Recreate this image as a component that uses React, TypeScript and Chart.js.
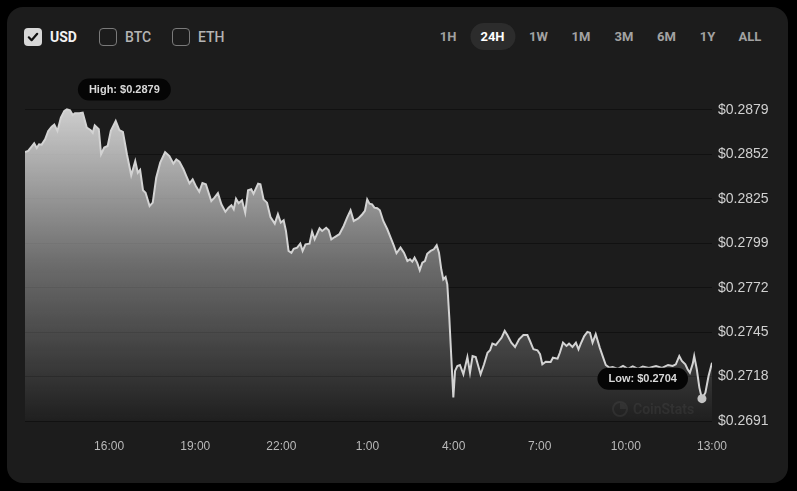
import React, { useEffect, useRef } from 'react';
import { Chart, registerables } from 'chart.js';

Chart.register(...registerables);

// hours since midnight of the first day (24 = midnight of day two)
const times = [
  13.07, 13.18, 13.30, 13.39, 13.48, 13.56, 13.65, 13.77, 13.88, 14.00,
  14.09, 14.20, 14.32, 14.44, 14.53, 14.64, 14.73, 14.81, 14.96, 15.08,
  15.22, 15.36, 15.43, 15.50, 15.64, 15.72, 15.83, 15.95, 16.06, 16.23,
  16.36, 16.48, 16.62, 16.77, 16.91, 17.00, 17.08, 17.18, 17.27, 17.41,
  17.52, 17.64, 17.78, 17.95, 18.10, 18.24, 18.34, 18.45, 18.59, 18.69,
  18.80, 18.91, 19.03, 19.14, 19.25, 19.37, 19.56, 19.67, 19.79, 19.91,
  20.05, 20.16, 20.26, 20.34, 20.42, 20.51, 20.63, 20.74, 20.84, 20.95,
  21.03, 21.19, 21.27, 21.38, 21.50, 21.62, 21.77, 21.88, 21.98, 22.08,
  22.16, 22.25, 22.35, 22.43, 22.55, 22.66, 22.74, 22.84, 22.98, 23.07,
  23.16, 23.33, 23.42, 23.56, 23.65, 23.74, 23.86, 24.02, 24.17, 24.29,
  24.41, 24.52, 24.68, 24.82, 24.91, 24.99, 25.07, 25.16, 25.24, 25.34,
  25.43, 25.55, 25.69, 25.83, 25.92, 26.01, 26.15, 26.27, 26.39, 26.48,
  26.56, 26.64, 26.73, 26.82, 26.91, 27.00, 27.08, 27.20, 27.31, 27.41,
  27.49, 27.57, 27.64, 27.72, 27.78, 27.85, 27.92, 27.99, 28.05, 28.13,
  28.22, 28.34, 28.48, 28.57, 28.66, 28.77, 28.94, 29.06, 29.18, 29.27,
  29.35, 29.47, 29.58, 29.67, 29.78, 29.87, 30.01, 30.14, 30.28, 30.43,
  30.57, 30.66, 30.78, 30.92, 31.01, 31.09, 31.21, 31.38, 31.46, 31.62,
  31.70, 31.81, 31.93, 32.02, 32.14, 32.26, 32.35, 32.43, 32.55, 32.66,
  32.75, 32.84, 32.95, 33.09, 33.21, 33.30, 33.42, 33.54, 33.72, 33.90,
  34.07, 34.24, 34.42, 34.59, 34.80, 35.05, 35.26, 35.47, 35.63, 35.74,
  35.86, 35.95, 36.07, 36.15, 36.23, 36.33, 36.38, 36.47, 36.56, 36.65,
  36.77, 36.88, 37.00,
];

const prices = [
  0.28532, 0.28539, 0.28565, 0.28585, 0.28557, 0.28579, 0.28577, 0.28609, 0.28660, 0.28686,
  0.28698, 0.28660, 0.28740, 0.28781, 0.28790, 0.28785, 0.28756, 0.28767, 0.28767, 0.28770,
  0.28680, 0.28664, 0.28649, 0.28694, 0.28670, 0.28519, 0.28559, 0.28569, 0.28660, 0.28720,
  0.28664, 0.28654, 0.28519, 0.28392, 0.28478, 0.28407, 0.28424, 0.28301, 0.28286, 0.28206,
  0.28226, 0.28377, 0.28468, 0.28532, 0.28508, 0.28462, 0.28488, 0.28474, 0.28428, 0.28387,
  0.28343, 0.28367, 0.28323, 0.28292, 0.28345, 0.28337, 0.28236, 0.28256, 0.28283, 0.28216,
  0.28171, 0.28196, 0.28210, 0.28186, 0.28250, 0.28222, 0.28240, 0.28165, 0.28301, 0.28307,
  0.28280, 0.28341, 0.28337, 0.28246, 0.28226, 0.28139, 0.28099, 0.28156, 0.28105, 0.28119,
  0.28055, 0.27934, 0.27923, 0.27947, 0.27954, 0.27978, 0.27934, 0.27974, 0.27978, 0.28050,
  0.28004, 0.28071, 0.28055, 0.28074, 0.28059, 0.28004, 0.28018, 0.28035, 0.28085, 0.28135,
  0.28180, 0.28115, 0.28131, 0.28156, 0.28176, 0.28246, 0.28220, 0.28216, 0.28196, 0.28192,
  0.28180, 0.28115, 0.28065, 0.28004, 0.27964, 0.27920, 0.27954, 0.27923, 0.27873, 0.27883,
  0.27869, 0.27893, 0.27863, 0.27817, 0.27863, 0.27873, 0.27917, 0.27934, 0.27944, 0.27968,
  0.27923, 0.27823, 0.27762, 0.27776, 0.27732, 0.27530, 0.27288, 0.27048, 0.27208, 0.27238,
  0.27244, 0.27188, 0.27292, 0.27197, 0.27298, 0.27292, 0.27188, 0.27248, 0.27318, 0.27333,
  0.27373, 0.27365, 0.27389, 0.27409, 0.27450, 0.27425, 0.27379, 0.27353, 0.27399, 0.27425,
  0.27425, 0.27389, 0.27339, 0.27333, 0.27309, 0.27248, 0.27264, 0.27262, 0.27288, 0.27282,
  0.27318, 0.27379, 0.27359, 0.27373, 0.27353, 0.27379, 0.27339, 0.27373, 0.27419, 0.27444,
  0.27439, 0.27379, 0.27430, 0.27349, 0.27288, 0.27244, 0.27228, 0.27232, 0.27220, 0.27238,
  0.27220, 0.27235, 0.27220, 0.27235, 0.27226, 0.27238, 0.27226, 0.27244, 0.27238, 0.27248,
  0.27298, 0.27268, 0.27248, 0.27218, 0.27197, 0.27252, 0.27298, 0.27218, 0.27107, 0.27040,
  0.27076, 0.27177, 0.27258,
];

const xTickHours = [16, 19, 22, 25, 28, 31, 34, 37];
const xTickLabels = ['16:00', '19:00', '22:00', '1:00', '4:00', '7:00', '10:00', '13:00'];
const xMin = 13.07;
const xMax = 37.0;

const yTickLabels = ['$0.2691', '$0.2718', '$0.2745', '$0.2772', '$0.2799', '$0.2825', '$0.2852', '$0.2879'];
const yMin = 0.26905;
const yStep = 0.002688;
const yMax = 0.290225;

const currencies = ['USD', 'BTC', 'ETH'];
const checkedCurrency = 'USD';
const ranges = ['1H', '24H', '1W', '1M', '3M', '6M', '1Y', 'ALL'];
const activeRange = '24H';

const AXIS_FONT = '"Liberation Sans", Arial, sans-serif';
const UI_FONT = 'Roboto, "Liberation Sans", Arial, sans-serif';

const markersPlugin = {
  id: 'markers',
  afterDatasetsDraw(chart: any) {
    const ctx = chart.ctx as CanvasRenderingContext2D;
    const xs = chart.scales.x;
    const ys = chart.scales.y;
    let hi = 0;
    let lo = 0;
    prices.forEach((p, i) => {
      if (p > prices[hi]) hi = i;
      if (p < prices[lo]) lo = i;
    });
    const measure = (text: string) => {
      ctx.save();
      ctx.font = `bold 11px ${AXIS_FONT}`;
      const w = ctx.measureText(text).width + 22;
      ctx.restore();
      return w;
    };
    const pill = (text: string, left: number, cy: number) => {
      const w = measure(text);
      const h = 22;
      ctx.save();
      ctx.font = `bold 11px ${AXIS_FONT}`;
      ctx.fillStyle = '#050505';
      ctx.beginPath();
      (ctx as any).roundRect(left, cy - h / 2, w, h, h / 2);
      ctx.fill();
      ctx.fillStyle = '#d9d9d9';
      ctx.textAlign = 'left';
      ctx.textBaseline = 'middle';
      ctx.fillText(text, left + 11, cy + 0.5);
      ctx.restore();
    };
    const hx = xs.getPixelForValue(times[hi]);
    const hy = ys.getPixelForValue(prices[hi]);
    pill(`High: $${prices[hi].toFixed(4)}`, hx + 11, hy - 20);
    const lx = xs.getPixelForValue(times[lo]);
    const ly = ys.getPixelForValue(prices[lo]);
    const lowText = `Low: $${prices[lo].toFixed(4)}`;
    pill(lowText, lx - 14 - measure(lowText), ly - 20);
    ctx.save();
    ctx.fillStyle = '#c4c4c4';
    ctx.beginPath();
    ctx.arc(lx, ly, 4.5, 0, Math.PI * 2);
    ctx.fill();
    ctx.restore();
  },
};

function PriceChart() {
  const ref = useRef<HTMLCanvasElement | null>(null);
  useEffect(() => {
    if (!ref.current) return;
    const chart = new Chart(ref.current, {
      type: 'line',
      data: {
        datasets: [
          {
            data: times.map((t, i) => ({ x: t, y: prices[i] })),
            borderColor: '#d3d3d3',
            borderWidth: 2,
            pointRadius: 0,
            tension: 0,
            fill: 'start',
            backgroundColor: (c: any) => {
              const ch = c.chart;
              const area = ch.chartArea;
              if (!area) return 'rgba(0,0,0,0)';
              const top = ch.scales.y.getPixelForValue(Math.max(...prices));
              const g = ch.ctx.createLinearGradient(0, top, 0, area.bottom);
              g.addColorStop(0, 'rgba(205,205,205,1)');
              g.addColorStop(0.5, 'rgba(205,205,205,0.45)');
              g.addColorStop(1, 'rgba(205,205,205,0.02)');
              return g;
            },
          },
        ],
      },
      options: {
        responsive: false,
        devicePixelRatio: 1,
        animation: false,
        layout: { padding: { left: 17, top: 10, right: 0, bottom: 0 } },
        plugins: { legend: { display: false }, tooltip: { enabled: false } },
        scales: {
          x: {
            type: 'linear',
            min: xMin,
            max: xMax,
            grid: { display: false, drawTicks: false },
            border: { display: false },
            afterBuildTicks: (s: any) => {
              s.ticks = xTickHours.map((v) => ({ value: v }));
            },
            afterFit: (s: any) => {
              s.height = 63;
              s.paddingLeft = 0;
              s.paddingRight = 0;
            },
            ticks: {
              autoSkip: false,
              maxRotation: 0,
              padding: 18,
              color: '#b9b9b9',
              font: { family: AXIS_FONT, size: 12 },
              callback: (_v: any, i: number) => xTickLabels[i],
            },
          },
          y: {
            position: 'right',
            min: yMin,
            max: yMax,
            grid: { color: 'rgba(0,0,0,0.38)', lineWidth: 1, drawTicks: false },
            border: { display: false },
            afterBuildTicks: (s: any) => {
              s.ticks = yTickLabels.map((_l, i) => ({ value: yMin + i * yStep }));
            },
            afterFit: (s: any) => {
              s.width = 76;
              s.paddingTop = 0;
              s.paddingBottom = 0;
            },
            ticks: {
              padding: 6,
              color: '#d0d0d0',
              font: { family: AXIS_FONT, size: 14 },
              callback: (_v: any, i: number) => yTickLabels[i],
            },
          },
        },
      },
      plugins: [markersPlugin],
    } as any);
    return () => chart.destroy();
  }, []);
  return (
    <canvas
      ref={ref}
      width={780}
      height={423}
      style={{ position: 'absolute', left: 8, top: 61, width: 780, height: 423 }}
    />
  );
}

export default function App() {
  const boxLefts = [24, 99, 172];
  const rangeCenters = [448, 492.5, 538.5, 581, 624, 666.5, 707.5, 750];
  return (
    <div style={{ position: 'fixed', inset: 0, background: '#000', overflow: 'hidden' }}>
      <div
        style={{
          position: 'absolute',
          left: 7,
          top: 7,
          width: 781,
          height: 476,
          borderRadius: 16,
          background: '#1c1c1c',
        }}
      />
      {currencies.map((c, i) => {
        const checked = c === checkedCurrency;
        return (
          <div key={c}>
            <div
              style={{
                position: 'absolute',
                left: boxLefts[i],
                top: 28,
                width: 18,
                height: 18,
                boxSizing: 'border-box',
                borderRadius: 4,
                background: checked ? '#d8d8d8' : 'transparent',
                border: checked ? 'none' : '1.5px solid #7a7a7a',
              }}
            >
              {checked && (
                <svg width={18} height={18} viewBox="0 0 18 18" style={{ display: 'block' }}>
                  <path d="M4.8 9.3 L7.6 12.2 L13.2 5.8" fill="none" stroke="#111" strokeWidth={2.2} strokeLinecap="round" strokeLinejoin="round" />
                </svg>
              )}
            </div>
            <div
              style={{
                position: 'absolute',
                left: boxLefts[i] + 26,
                top: 28,
                height: 18,
                lineHeight: '18px',
                fontFamily: UI_FONT,
                fontSize: 14,
                fontWeight: checked ? 700 : 500,
                color: checked ? '#f2f2f2' : '#b4b4b4',
              }}
            >
              {c}
            </div>
          </div>
        );
      })}
      {ranges.map((r, i) => {
        const active = r === activeRange;
        return (
          <div
            key={r}
            style={{
              position: 'absolute',
              left: rangeCenters[i],
              top: 23,
              transform: 'translateX(-50%)',
              padding: '0 10.5px',
              height: 27,
              lineHeight: '27px',
              borderRadius: 13.5,
              whiteSpace: 'nowrap',
              background: active ? '#2c2c2c' : 'transparent',
              color: active ? '#ffffff' : '#a2a2a2',
              fontFamily: UI_FONT,
              fontSize: 13,
              fontWeight: 700,
            }}
          >
            {r}
          </div>
        );
      })}
      <PriceChart />
      <div
        style={{
          position: 'absolute',
          left: 612,
          top: 400,
          height: 18,
          display: 'flex',
          alignItems: 'center',
          gap: 5,
          color: 'rgba(255,255,255,0.06)',
          fontFamily: UI_FONT,
          fontSize: 14,
          fontWeight: 600,
          pointerEvents: 'none',
        }}
      >
        <svg width={16} height={16} viewBox="0 0 16 16">
          <circle cx={8} cy={8} r={7} fill="none" stroke="rgba(255,255,255,0.06)" strokeWidth={2} />
          <path d="M8 8 L8 2 A6 6 0 0 1 14 8 Z" fill="rgba(255,255,255,0.06)" />
        </svg>
        <span>CoinStats</span>
      </div>
    </div>
  );
}
